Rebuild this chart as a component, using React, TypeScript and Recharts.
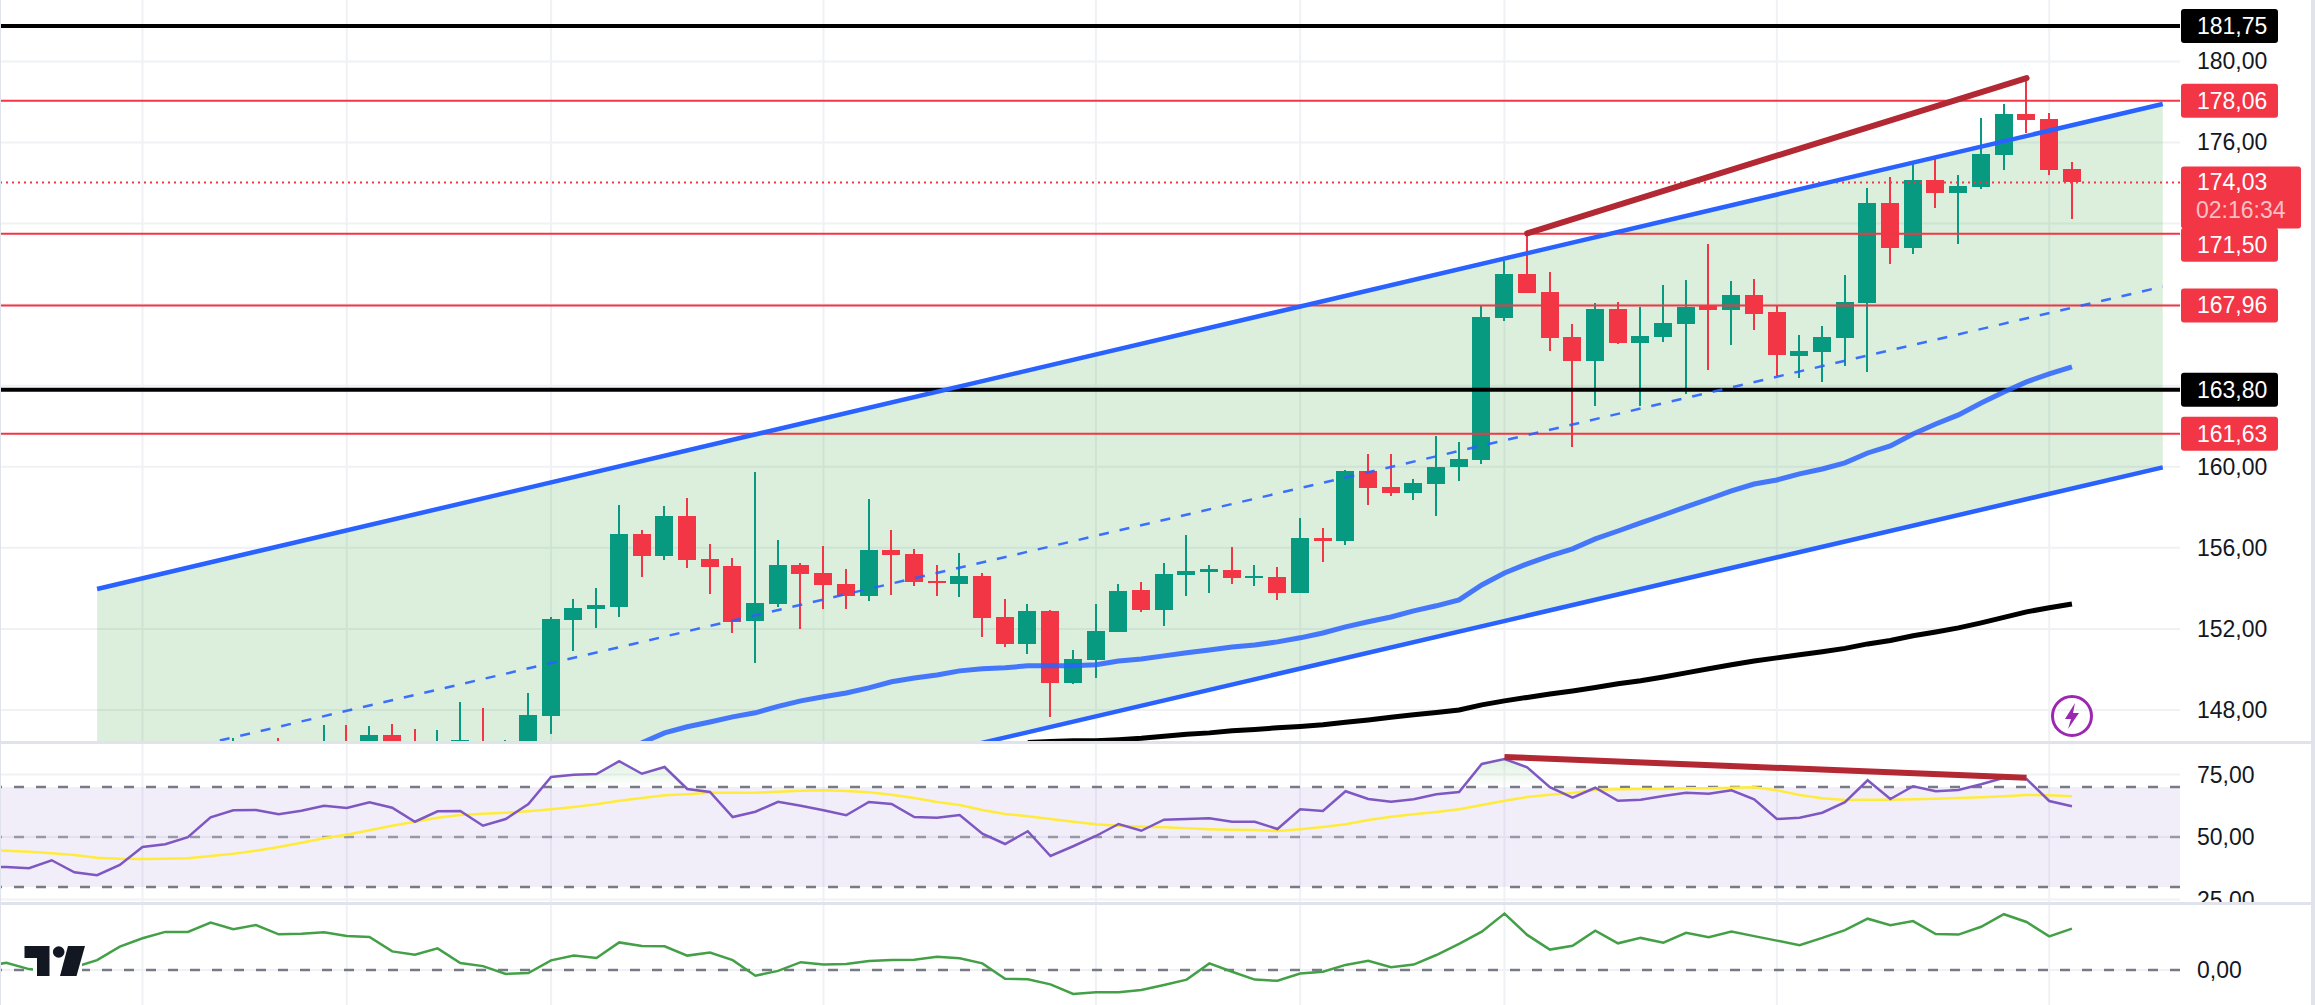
import React from 'react';
import { Area, Bar, CartesianGrid, ComposedChart, Line, ReferenceArea, ReferenceLine, XAxis, YAxis } from 'recharts';

// candles start at bar 11, everything left of that sits below the visible price range
const firstCandle = 11;
const opens = [
  145.6, 145.5, 146.2, 145.7, 145.5, 146.3, 145.9, 146.77, 146.3, 145.8, 146.3, 146.3, 145.9, 146.0,
  147.71, 152.44, 152.99, 153.08, 156.69, 155.6, 157.58, 155.46, 155.11, 152.4, 153.24, 155.16, 154.77, 154.22,
  153.63, 155.9, 155.7, 154.37, 154.22, 154.62, 152.59, 151.26, 152.89, 149.34, 150.47, 151.85, 153.93, 152.94,
  154.67, 154.81, 154.91, 154.52, 154.57, 153.78, 156.49, 156.34, 159.8, 159.01, 158.71, 159.15, 159.99, 160.34,
  167.34, 169.51, 168.63, 166.41, 165.22, 167.78, 166.1, 166.41, 167.04, 167.98, 167.73, 168.48, 167.63, 165.47,
  165.67, 166.36, 168.08, 173.02, 170.8, 174.16, 173.52, 173.8, 175.38, 177.4, 177.16, 174.7,
];
const highs = [
  146.63, 146.2, 146.63, 146.3, 147.27, 147.27, 147.22, 147.31, 147.07, 147.02, 148.4, 148.11, 146.53, 148.85,
  152.59, 153.48, 154.03, 158.12, 156.89, 158.07, 158.47, 156.2, 155.51, 159.75, 156.4, 155.26, 156.1, 154.96,
  158.42, 156.89, 155.95, 155.16, 155.75, 154.77, 153.48, 153.24, 152.94, 150.97, 153.24, 154.22, 154.32, 155.26,
  156.64, 155.16, 156.05, 155.16, 155.06, 157.48, 156.99, 159.85, 160.64, 160.64, 159.4, 161.52, 161.23, 167.93,
  170.15, 171.52, 169.61, 167.05, 168.08, 168.13, 167.88, 168.97, 169.22, 171.0, 169.17, 169.27, 167.98, 166.5,
  166.95, 169.46, 173.76, 174.31, 175.05, 175.25, 174.41, 177.21, 177.9, 179.23, 177.45, 175.05,
];
const lows = [
  145.2, 145.0, 145.1, 145.3, 145.0, 145.0, 145.4, 145.5, 145.3, 145.2, 145.5, 145.3, 145.6, 145.6,
  146.82, 150.92, 152.05, 152.59, 154.57, 155.41, 155.01, 153.73, 151.81, 150.33, 153.09, 152.0, 152.99, 152.99,
  153.38, 153.68, 154.12, 153.63, 153.58, 151.61, 151.11, 150.77, 147.66, 149.29, 149.59, 151.85, 152.84, 152.15,
  153.63, 153.78, 154.22, 154.12, 153.43, 153.78, 155.31, 156.15, 158.12, 158.57, 158.37, 157.58, 159.3, 160.14,
  167.19, 168.58, 165.72, 160.97, 163.0, 166.05, 163.0, 166.15, 163.6, 164.77, 166.01, 166.75, 164.47, 164.37,
  164.17, 164.97, 164.67, 170.01, 170.5, 172.78, 171.0, 173.7, 174.64, 176.47, 174.39, 172.23,
];
const closes = [
  146.2, 145.9, 145.6, 146.1, 146.3, 145.6, 146.77, 145.9, 145.8, 146.3, 146.53, 146.0, 146.3, 147.76,
  152.5, 153.04, 153.19, 156.69, 155.6, 157.58, 155.41, 155.06, 152.35, 153.28, 155.16, 154.72, 154.17, 153.63,
  155.9, 155.65, 154.32, 154.27, 154.62, 152.55, 151.26, 152.89, 149.34, 150.52, 151.9, 153.88, 152.94, 154.72,
  154.86, 154.96, 154.52, 154.62, 153.78, 156.49, 156.34, 159.8, 158.96, 158.71, 159.2, 159.99, 160.39, 167.39,
  169.51, 168.58, 166.36, 165.22, 167.78, 166.1, 166.45, 167.09, 167.88, 167.73, 168.48, 167.54, 165.51, 165.72,
  166.41, 168.13, 173.02, 170.8, 174.16, 173.52, 173.87, 175.43, 177.4, 177.11, 174.64, 174.03,
];

const blueMaStart = 28;
const blueMa = [
  146.03, 146.38, 146.87, 147.17, 147.41, 147.66, 147.86, 148.18, 148.45, 148.65, 148.84, 149.09, 149.39, 149.58,
  149.73, 149.93, 150.03, 150.08, 150.18, 150.18, 150.18, 150.23, 150.42, 150.52, 150.67, 150.82, 150.96, 151.11,
  151.21, 151.36, 151.56, 151.8, 152.1, 152.35, 152.59, 152.89, 153.14, 153.43, 154.17, 154.76, 155.21, 155.6,
  155.95, 156.44, 156.83, 157.23, 157.62, 158.02, 158.41, 158.81, 159.15, 159.35, 159.65, 159.89, 160.19, 160.68,
  161.03, 161.62, 162.11, 162.56, 163.15, 163.69, 164.19, 164.58, 164.93,
];
const blackMaStart = 46;
const blackMa = [
  146.4, 146.45, 146.48, 146.48, 146.53, 146.6, 146.7, 146.8, 146.87, 146.97, 147.04, 147.12, 147.19, 147.27,
  147.39, 147.51, 147.64, 147.76, 147.88, 148.0, 148.25, 148.45, 148.62, 148.79, 148.94, 149.11, 149.29, 149.44,
  149.63, 149.83, 150.03, 150.23, 150.42, 150.57, 150.72, 150.87, 151.04, 151.26, 151.43, 151.66, 151.85, 152.05,
  152.3, 152.57, 152.84, 153.04, 153.23,
];

// RSI and its average, from bar 0
const rsi = [
  37.9, 38.0, 37.5, 40.7, 35.9, 34.7, 38.8, 46.0, 47.1, 49.9, 57.9, 60.7, 60.8, 59.1, 60.5, 62.5, 61.6, 63.9, 61.7, 56.1,
  60.3, 60.4, 54.5, 57.2, 63.2, 74.0, 74.9, 75.2, 80.3, 75.3, 78.0, 69.2, 68.0, 58.0, 60.1, 64.1, 62.5, 60.7, 58.7, 64.0,
  63.2, 58.0, 57.7, 58.8, 51.3, 47.2, 52.3, 42.4, 46.3, 50.4, 55.2, 52.5, 56.9, 57.2, 57.5, 56.1, 56.1, 53.2, 61.1, 60.4,
  68.3, 65.2, 64.1, 65.1, 67.1, 68.0, 79.2, 81.2, 77.9, 69.9, 65.7, 69.7, 64.5, 64.9, 66.4, 67.7, 67.3, 68.7, 65.1, 57.2,
  57.7, 59.7, 63.9, 72.7, 65.2, 70.3, 68.3, 68.8, 71.1, 73.7, 73.2, 64.4, 62.3,
];
const rsiAverage = [
  44.8, 44.5, 44.1, 43.5, 42.8, 41.7, 41.3, 41.2, 41.3, 41.5, 42.4, 43.3, 44.5, 46.0, 47.7, 49.5, 50.9, 52.7, 54.5, 56.1,
  57.7, 58.8, 59.3, 59.7, 60.3, 61.1, 62.0, 63.1, 64.5, 65.6, 66.7, 67.1, 67.7, 67.7, 67.7, 68.1, 68.5, 68.7, 68.4, 67.9,
  66.9, 65.6, 64.0, 62.8, 60.8, 59.2, 58.3, 57.2, 56.1, 55.1, 54.5, 54.1, 53.9, 53.5, 53.1, 52.9, 52.8, 52.4, 53.1, 54.0,
  55.1, 56.8, 58.1, 59.1, 60.0, 61.1, 62.8, 64.5, 66.0, 66.9, 67.6, 68.8, 69.1, 69.2, 69.2, 69.5, 69.5, 69.7, 69.9, 68.7,
  66.8, 65.5, 64.8, 64.9, 64.9, 65.1, 65.3, 65.6, 65.9, 66.3, 66.8, 66.7, 66.3,
];
// lower indicator pane, from bar 0
const momentum = [
  1.1, 2.4, 0.3, -0.6, 0.9, 3.3, 7.8, 10.6, 12.7, 12.7, 15.8, 13.6, 15.0, 11.9, 12.1, 12.6, 11.3, 11.0, 6.2, 5.1,
  7.2, 2.3, 1.3, -1.3, -1.0, 3.2, 4.8, 4.0, 9.2, 8.0, 7.9, 4.8, 5.8, 3.3, -1.9, -0.3, 2.6, 1.8, 2.0, 3.0,
  3.3, 3.4, 4.4, 3.9, 2.2, -2.9, -3.1, -4.8, -8.0, -7.4, -7.4, -6.7, -5.0, -3.2, 2.2, -0.6, -3.2, -3.6, -1.2, -0.6,
  1.7, 3.1, 0.9, 1.8, 5.0, 8.7, 12.8, 18.8, 11.7, 6.8, 8.1, 13.1, 8.9, 10.7, 9.1, 12.4, 10.9, 12.8, 11.3, 9.8,
  8.3, 10.7, 13.3, 17.1, 14.9, 16.3, 12.0, 11.8, 14.4, 18.6, 16.0, 11.2, 13.8,
];

// trend lines, anchored on bars as [bar, price]
const channelUpper = [[5, 153.97], [96, 177.9]];
const channelLower = [[5, 136.19], [96, 159.97]];
const channelMiddle = [[5, 145.08], [96, 168.89]];
const priceTrend = [[68, 171.52], [90, 179.18]];
const rsiTrend = [[67, 82], [90, 73.7]];
// stretches of the RSI above 70
const overboughtA = [[24.6, 70], [25, 74.0], [26, 74.9], [27, 75.2], [28, 80.3], [29, 75.3], [30, 78.0], [30.9, 70]];
const overboughtB = [[65.1, 70], [66, 79.2], [67, 81.2], [68, 77.9], [69, 70]];

const redLevels = [178.06, 171.5, 167.96, 161.63];
const blackLevels = [181.75, 163.8];
const lastPrice = 174.03;
const countdown = '02:16:34';
const priceTicks = [180, 176, 160, 156, 152, 148];
const priceGrid = [180, 176, 172, 168, 164, 160, 156, 152, 148];
const timeGrid = [7, 16, 25, 37, 49, 58, 67, 79, 91];

const WIDTH = 2315;
const PLOT_W = 2180;
const AXIS_W = WIDTH - PLOT_W;
const X_DOMAIN = [0.7225, 96.76];
const LABEL_X = 2197;
const GREEN = '#089981';
const RED = '#F23645';
const GRID = '#f0f1f5';
const FONT = '"Liberation Sans", sans-serif';
const FONT_SIZE = 23;

const fmt = (v: number) => v.toFixed(2).replace('.', ',');
const seriesFrom = (start: number, values: number[]) => values.map((value, k) => ({ i: start + k, value }));
const anchors = (pts: number[][]) => pts.map(([i, value]) => ({ i, value }));

const candles = opens.map((open, k) => ({ i: firstCandle + k, open, high: highs[k], low: lows[k], close: closes[k] }));
const channelBand = channelUpper.map(([i, up], k) => ({ i, band: [channelLower[k][1], up] }));
const hotBand = (pts: number[][]) => pts.map(([i, value]) => ({ i, band: [70, value] }));

const Candle = (props: any) => {
  const { x, y, width, height, payload } = props;
  const { open, close, high, low } = payload;
  const perUnit = height / (high - low);
  const cx = Math.round(x + width / 2);
  const color = close >= open ? GREEN : RED;
  const top = y + (high - Math.max(open, close)) * perUnit;
  const bodyH = Math.max(Math.abs(open - close) * perUnit, 2);
  return (
    <g shapeRendering="crispEdges">
      <rect x={cx - 1} y={y} width={2} height={height} fill={color} />
      <rect x={cx - 9} y={top} width={18} height={bodyH} fill={color} />
    </g>
  );
};

const PlainTick = (props: any) => (
  <text x={LABEL_X} y={props.y} dominantBaseline="central" fontFamily={FONT} fontSize={FONT_SIZE} fill="#131722">
    {fmt(props.payload.value)}
  </text>
);

const PriceTick = (props: any) => {
  const value = props.payload.value;
  const y = props.y;
  if (value === lastPrice) {
    return (
      <g fontFamily={FONT} fontSize={FONT_SIZE} fill="#fff">
        <rect x={2181} y={y - 16} width={120} height={62} rx={3} fill={RED} />
        <text x={LABEL_X} y={y} dominantBaseline="central">{fmt(value)}</text>
        <text x={LABEL_X - 1} y={y + 28} dominantBaseline="central" fillOpacity={0.7}>{countdown}</text>
      </g>
    );
  }
  const isBlack = blackLevels.includes(value);
  const isRed = redLevels.includes(value);
  if (!isBlack && !isRed) return <PlainTick {...props} />;
  // this tag gets pushed down by the last price tag above it
  const cy = value === 171.5 ? y + 11 : y;
  return (
    <g fontFamily={FONT} fontSize={FONT_SIZE} fill="#fff">
      <rect x={2181} y={cy - 17} width={97} height={34} rx={3} fill={isBlack ? '#000' : RED} />
      <text x={LABEL_X} y={cy} dominantBaseline="central">{fmt(value)}</text>
    </g>
  );
};

const Overlay = () => (
  <svg width={WIDTH} height={1005} style={{ position: 'absolute', left: 0, top: 0, pointerEvents: 'none' }}>
    <rect x={33} y={940} width={49} height={42} fill="#fff" />
    <path d="M24.5 946H49.5V976H37V958H24.5Z" fill="#131722" />
    <circle cx={58.7} cy={952} r={5.8} fill="#131722" />
    <path d="M68 946H85L76.5 976H60Z" fill="#131722" />
    <circle cx={2072} cy={716} r={19.5} fill="none" stroke="#9C27B0" strokeWidth={3} />
    <path d="M2075 703L2065 719H2071L2068 729L2079 713H2073Z" fill="#9C27B0" />
  </svg>
);

const Pane = ({ top, height, children }: any) => (
  <div style={{ position: 'absolute', left: 0, top, width: WIDTH, height }}>{children}</div>
);

const hairlines = [
  { left: 0, top: 741, width: 2311, height: 3 },
  { left: 0, top: 902, width: 2311, height: 3 },
  { left: 2311, top: 0, width: 4, height: 1005 },
  { left: 0, top: 0, width: 1, height: 1005 },
];

const App: React.FC = () => {
  const margin = { top: 0, right: 0, bottom: 0, left: 0 };
  const xAxis = <XAxis dataKey="i" type="number" domain={X_DOMAIN} hide allowDataOverflow />;
  return (
    <div style={{ position: 'absolute', left: 0, top: 0, width: WIDTH, height: 1005, overflow: 'hidden', background: '#fff' }}>
      <Pane top={0} height={742}>
        <ComposedChart width={WIDTH} height={742} data={candles} margin={margin}>
          <CartesianGrid stroke={GRID} strokeWidth={2} horizontalValues={priceGrid} verticalValues={timeGrid} />
          {xAxis}
          <YAxis
            orientation="right"
            width={AXIS_W}
            type="number"
            domain={[146.42, 183.03]}
            allowDataOverflow
            ticks={[...priceTicks, ...blackLevels, ...redLevels, lastPrice]}
            interval={0}
            axisLine={false}
            tickLine={false}
            tick={PriceTick}
          />
          <Area data={channelBand} dataKey="band" type="linear" stroke="none" fill="#4CAF50" fillOpacity={0.2} isAnimationActive={false} />
          {blackLevels.map(v => (
            <ReferenceLine key={v} y={v} stroke="#000" strokeWidth={4} />
          ))}
          {redLevels.map(v => (
            <ReferenceLine key={v} y={v} stroke={RED} strokeWidth={2} />
          ))}
          <ReferenceLine y={lastPrice} stroke={RED} strokeWidth={2} strokeDasharray="2 4" />
          <Line data={anchors(channelMiddle)} dataKey="value" type="linear" stroke="#2962FF" strokeOpacity={0.9} strokeWidth={2.5} strokeDasharray="10 11" dot={false} isAnimationActive={false} />
          <Line data={anchors(channelUpper)} dataKey="value" type="linear" stroke="#2962FF" strokeWidth={4.5} dot={false} isAnimationActive={false} />
          <Line data={anchors(channelLower)} dataKey="value" type="linear" stroke="#2962FF" strokeWidth={4.5} dot={false} isAnimationActive={false} />
          <Line data={seriesFrom(blueMaStart, blueMa)} dataKey="value" type="linear" stroke="#2962FF" strokeOpacity={0.85} strokeWidth={5} dot={false} isAnimationActive={false} />
          <Line data={seriesFrom(blackMaStart, blackMa)} dataKey="value" type="linear" stroke="#000" strokeWidth={5} dot={false} isAnimationActive={false} />
          <Bar dataKey={(d: any) => [d.low, d.high]} barSize={18} shape={Candle} isAnimationActive={false} />
          <Line data={anchors(priceTrend)} dataKey="value" type="linear" stroke="#B22833" strokeWidth={6} strokeLinecap="round" dot={false} isAnimationActive={false} />
        </ComposedChart>
      </Pane>

      <Pane top={744} height={158}>
        <ComposedChart width={WIDTH} height={158} data={seriesFrom(0, rsi)} margin={margin}>
          <defs>
            <linearGradient id="hotFill" x1="0" y1="0" x2="0" y2="1">
              <stop offset="0%" stopColor="#4CAF50" stopOpacity={0.3} />
              <stop offset="100%" stopColor="#4CAF50" stopOpacity={0} />
            </linearGradient>
          </defs>
          <CartesianGrid stroke={GRID} strokeWidth={2} horizontalValues={[75, 50, 25]} verticalValues={timeGrid} />
          {xAxis}
          <YAxis
            orientation="right"
            width={AXIS_W}
            type="number"
            domain={[24, 87.2]}
            allowDataOverflow
            ticks={[75, 50, 25]}
            interval={0}
            axisLine={false}
            tickLine={false}
            tick={PlainTick}
          />
          <ReferenceArea y1={30} y2={70} fill="#7E57C2" fillOpacity={0.1} stroke="none" />
          <ReferenceLine y={70} stroke="#787B86" strokeWidth={2.5} strokeDasharray="10 12" />
          <ReferenceLine y={50} stroke="#787B86" strokeOpacity={0.7} strokeWidth={2.5} strokeDasharray="10 12" />
          <ReferenceLine y={30} stroke="#787B86" strokeWidth={2.5} strokeDasharray="10 12" />
          <Area data={hotBand(overboughtA)} dataKey="band" type="linear" stroke="none" fill="url(#hotFill)" isAnimationActive={false} />
          <Area data={hotBand(overboughtB)} dataKey="band" type="linear" stroke="none" fill="url(#hotFill)" isAnimationActive={false} />
          <Line data={seriesFrom(0, rsiAverage)} dataKey="value" type="linear" stroke="#FFEB3B" strokeWidth={2.5} dot={false} isAnimationActive={false} />
          <Line dataKey="value" type="linear" stroke="#7E57C2" strokeWidth={2.5} dot={false} isAnimationActive={false} />
          <Line data={anchors(rsiTrend)} dataKey="value" type="linear" stroke="#B22833" strokeWidth={6} dot={false} isAnimationActive={false} />
        </ComposedChart>
      </Pane>

      <Pane top={905} height={100}>
        <ComposedChart width={WIDTH} height={100} data={seriesFrom(0, momentum)} margin={margin}>
          <CartesianGrid stroke={GRID} strokeWidth={2} horizontalValues={[0]} verticalValues={timeGrid} />
          {xAxis}
          <YAxis
            orientation="right"
            width={AXIS_W}
            type="number"
            domain={[-11.67, 21.67]}
            allowDataOverflow
            ticks={[0]}
            interval={0}
            axisLine={false}
            tickLine={false}
            tick={PlainTick}
          />
          <ReferenceLine y={0} stroke="#787B86" strokeWidth={2.5} strokeDasharray="10 12" />
          <Line dataKey="value" type="linear" stroke="#43A047" strokeWidth={2.5} dot={false} isAnimationActive={false} />
        </ComposedChart>
      </Pane>

      {hairlines.map((h, k) => (
        <div key={k} style={{ position: 'absolute', background: '#e0e3eb', ...h }} />
      ))}
      <Overlay />
    </div>
  );
};

export default App;
